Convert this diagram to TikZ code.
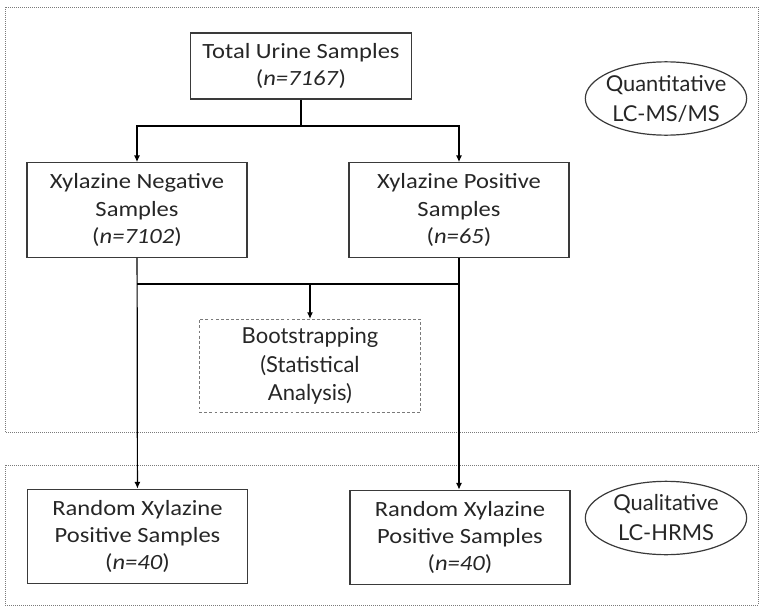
\documentclass[tikz,border=0pt]{standalone}
\usepackage{fontspec}
\setmainfont{Carlito}[FakeStretch=1.13]
\newfontfamily\roundfont{Lato}
\usetikzlibrary{arrows.meta, positioning, calc, shapes.geometric}
\definecolor{boxline}{HTML}{3A3A3A}
\definecolor{regionline}{HTML}{7A7A7A}
\definecolor{textgray}{HTML}{262626}

\begin{document}
\begin{tikzpicture}[
      x=0.75pt, y=-0.75pt,
      sample/.style={draw=boxline, line width=0.8pt, minimum width=165pt,
        minimum height=71pt, align=center, text=textgray,
        font=\fontsize{16.3}{20.5}\selectfont, inner sep=0pt},
      method/.style={draw=boxline, line width=0.9pt, ellipse, minimum width=121pt,
        minimum height=55pt, align=center, text=textgray, inner sep=-4pt,
        font=\roundfont\fontsize{16.4}{22.5}\selectfont},
      region/.style={draw=regionline, line width=0.5pt, densely dotted},
      link/.style={draw=black, line width=0.9pt},
      >={Latex[length=5pt,width=4.5pt]}
    ]
      \useasboundingbox (0,0) rectangle (765,614);
      % dashed regions
      \draw[region] (5,7) rectangle (758,432);
      \draw[region] (5,465) rectangle (758,605);

      \node[sample, minimum width=166pt, minimum height=49.5pt] (total) at (301,66)
        {Total Urine Samples\\(\textit{n=7167})};
      \node[sample] (neg) at (137,210)
        {Xylazine Negative\\Samples\\(\textit{n=7102})};
      \node[sample] (pos) at (459,210)
        {Xylazine Positive\\Samples\\(\textit{n=65})};
      \node[sample, draw=regionline, dashed, dash pattern=on 2.2pt off 1.6pt,
        line width=0.6pt, minimum width=166pt, minimum height=70pt,
        font=\roundfont\fontsize{16.5}{21.4}\selectfont] (boot) at (310,366)
        {Bootstrapping\\(Statistical\\Analysis)};
      \node[sample] (randneg) at (137.5,536.5)
        {Random Xylazine\\Positive Samples\\(\textit{n=40})};
      \node[sample] (randpos) at (460,537.5)
        {Random Xylazine\\Positive Samples\\(\textit{n=40})};

      \node[method] (quant) at (666,98.5) {Quantitative\\LC-MS/MS};
      \node[method] (qual) at (666,518) {Qualitative\\LC-HRMS};

      % connectors
      \coordinate (split) at (301,126);
      \coordinate (merge) at (310,284);
      \draw[link] (total) -- (split);
      \draw[link, ->] (split) -| (neg);
      \draw[link, ->] (split) -| (pos);
      \draw[link] (neg.south |- merge) -- (pos.south |- merge);
      \draw[link, ->] (merge) -- (boot);
      \draw[link, ->] (neg) -- (randneg);
      \draw[link, ->] (pos) -- (randpos.north -| pos.south);
    \end{tikzpicture}
\end{document}
